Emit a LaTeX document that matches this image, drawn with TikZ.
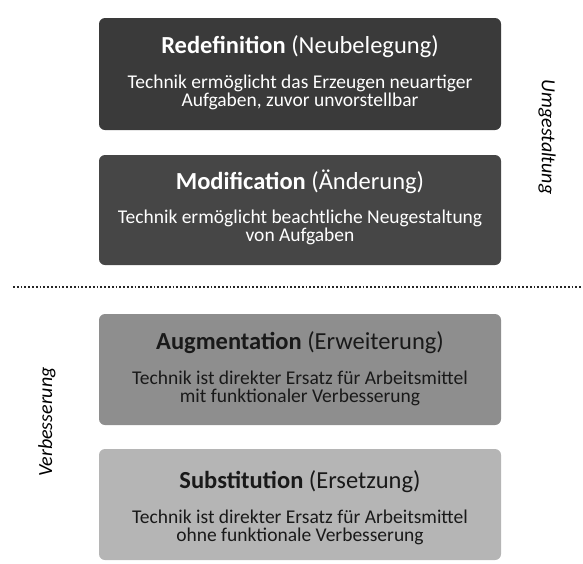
\documentclass[tikz,border=0pt]{standalone}
\usepackage{fontspec}
\setmainfont{Carlito}
\begin{document}
\begin{tikzpicture}[x=1pt,y=-1pt,
  box/.style={rounded corners=6pt, draw=none},
  ttl/.style={font=\fontsize{24.5}{28}\selectfont, anchor=base, inner sep=0pt},
  bdy/.style={font=\fontsize{19.5}{18}\selectfont, align=center, anchor=center, inner sep=0pt},
  side/.style={font=\itshape\fontsize{20}{24}\selectfont, anchor=center}]
\useasboundingbox (0,0) rectangle (583,563);
\definecolor{c1}{HTML}{3A3A3A}
\definecolor{c2}{HTML}{464646}
\definecolor{c3}{HTML}{8E8E8E}
\definecolor{c4}{HTML}{B5B5B5}
\fill[box,c1] (99,18) rectangle (501,130);
\fill[box,c2] (99,155) rectangle (501,265);
\fill[box,c3] (99,314) rectangle (501,425);
\fill[box,c4] (99,449) rectangle (501,560);
\begin{scope}[text=white]
\node[ttl] (t1) at (300,53) {\textbf{Redefinition} (Neubelegung)};
\node[bdy] (b1) at (300,92) {Technik ermöglicht das Erzeugen neuartiger\\Aufgaben, zuvor unvorstellbar};
\node[ttl] (t2) at (300,189) {\textbf{Modification} (Änderung)};
\node[bdy] (b2) at (300,227) {Technik ermöglicht beachtliche Neugestaltung\\von Aufgaben};
\end{scope}
\begin{scope}[text=black!90]
\node[ttl] (t3) at (300,349) {\textbf{Augmentation} (Erweiterung)};
\node[bdy] (b3) at (300,388) {Technik ist direkter Ersatz für Arbeitsmittel\\mit funktionaler Verbesserung};
\node[ttl] (t4) at (300,488) {\textbf{Substitution} (Ersetzung)};
\node[bdy] (b4) at (300,527) {Technik ist direkter Ersatz für Arbeitsmittel\\ohne funktionale Verbesserung};
\end{scope}
\node[side,rotate=-90] (u) at (547,137) {Umgestaltung};
\node[side,rotate=90] (v) at (47,422) {Verbesserung};
\coordinate (dl) at (13,287);
\coordinate (dr) at (583,287);
\draw[line width=1.8pt, dash pattern=on 1.8pt off 2pt, color=black!85] (dl) -- (dr);
\end{tikzpicture}
\end{document}
